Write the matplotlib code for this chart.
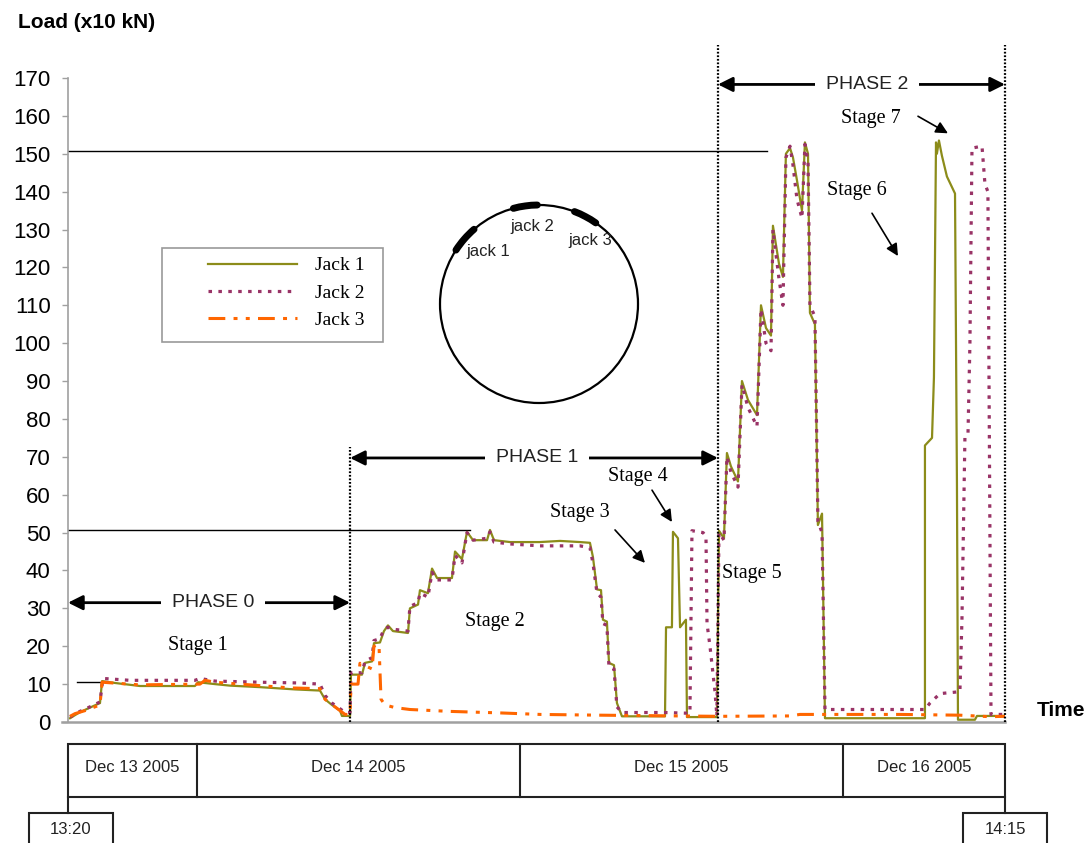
import matplotlib
matplotlib.use('Agg')
import matplotlib.pyplot as plt
from matplotlib.patches import Rectangle, Circle, Arc

# ---- data (time in hours since Dec 13 13:20, load in x10 kN) ----
jack1_t = [0.16, 0.54, 0.93, 1.32, 1.71, 2.10, 2.49, 2.65, 3.66, 5.60, 9.88, 10.12, 11.44, 12.61,
           14.94, 17.67, 19.61, 20.00, 20.54, 21.17, 21.32, 21.95,
           22.02, 22.88, 23.11, 23.66, 23.81, 24.28, 24.59, 24.90, 25.29, 26.46, 26.61, 27.24, 27.39,
           28.01, 28.33, 28.72, 29.88, 30.12, 30.66, 31.05, 31.52, 32.61, 32.84, 33.15, 34.40, 36.73,
           38.29, 39.84, 40.62, 40.85, 41.17, 41.48, 41.63, 41.94, 42.10, 42.49, 42.72, 43.11, 46.46,
           46.54, 47.00, 47.08, 47.47, 47.63, 48.09, 48.17, 50.50,
           50.66, 51.05, 51.28, 51.59, 52.14, 52.45, 52.92, 53.62, 53.93, 54.32, 54.71, 54.86, 55.33,
           55.64, 55.87, 56.19, 56.42, 56.73, 57.12, 57.35, 57.59, 57.74, 58.13, 58.36, 58.68, 58.91,
           66.69, 66.69, 67.24, 67.39, 67.55, 67.62, 67.78, 68.01, 68.40, 69.03, 69.18, 69.26, 70.58,
           70.74, 72.92]
jack1_load = [1.0, 1.8, 2.6, 3.2, 3.8, 4.4, 5.0, 10.8, 10.3, 9.5, 9.5, 10.5, 10.0, 9.6,
              9.2, 8.6, 8.3, 6.0, 4.5, 3.0, 1.6, 1.6,
              12.5, 12.5, 15.6, 16.0, 20.8, 21.0, 24.0, 25.5, 24.0, 23.5, 30.0, 31.0, 34.8,
              34.0, 40.5, 38.0, 38.0, 45.0, 43.0, 50.2, 48.0, 48.0, 50.7, 48.0, 47.5, 47.5,
              47.8, 47.5, 47.3, 43.6, 35.0, 34.8, 27.0, 26.5, 15.6, 15.0, 5.0, 1.5, 1.5,
              25.0, 25.0, 50.2, 48.5, 25.0, 27.0, 1.3, 1.3,
              50.5, 48.5, 71.0, 67.5, 63.5, 90.0, 85.0, 81.0, 110.0, 104.0, 102.0, 131.0, 121.0,
              117.5, 150.0, 151.5, 149.0, 143.0, 135.0, 153.0, 150.0, 108.0, 105.0, 52.0, 55.0, 1.0,
              1.0, 73.0, 75.0, 91.0, 153.0, 150.0, 153.5, 149.5, 144.0, 139.5, 63.0, 0.6, 0.6,
              1.6, 1.6]

jack2_t = [0.16, 0.93, 1.71, 2.49, 2.72, 4.82, 9.88, 10.27, 11.44, 14.94, 18.05, 19.61, 20.00,
           20.54, 21.17, 21.56, 21.95,
           22.02, 22.88, 23.11, 23.66, 23.81, 24.28, 24.59, 24.90, 25.29, 26.46, 26.61, 27.24, 27.39,
           28.01, 28.33, 28.72, 29.88, 30.12, 30.66, 31.05, 31.52, 32.61, 32.84, 33.15, 34.40, 36.73,
           38.29, 39.84, 40.62, 40.85, 41.17, 41.48, 41.63, 41.94, 42.10, 42.49, 42.72, 43.11,
           46.46, 48.40, 48.56, 49.42, 49.65, 49.73, 49.96, 50.35, 50.50,
           50.66, 51.05, 51.28, 51.59, 52.14, 52.45, 52.92, 53.62, 53.93, 54.32, 54.71, 54.86, 55.33,
           55.64, 55.87, 56.19, 56.42, 56.73, 57.12, 57.35, 57.59, 57.74, 58.13, 58.36, 58.68, 58.91,
           66.69, 67.08, 67.86, 69.41, 69.57, 69.80, 70.04, 70.19, 70.35, 71.13, 71.36, 71.59, 71.83,
           72.92]
jack2_load = [1.3, 2.8, 4.0, 5.3, 11.5, 11.0, 11.0, 11.5, 10.8, 10.5, 10.3, 10.0, 7.0,
              5.0, 3.5, 2.5, 2.5,
              13.0, 13.0, 16.0, 17.0, 21.5, 22.0, 24.5, 25.0, 24.5, 24.0, 30.5, 31.5, 34.0,
              33.0, 39.5, 37.5, 37.5, 44.0, 42.0, 50.0, 48.0, 48.5, 50.2, 47.5, 47.0, 46.5,
              46.5, 46.5, 46.0, 42.0, 34.0, 33.0, 26.0, 25.5, 14.5, 14.0, 4.0, 2.5,
              2.5, 2.3, 50.5, 50.0, 49.0, 26.0, 20.0, 8.0, 1.5,
              50.0, 48.0, 70.0, 66.0, 62.0, 89.0, 83.0, 78.0, 109.0, 100.0, 98.0, 130.0, 117.0,
              110.0, 149.0, 152.0, 147.0, 138.0, 133.0, 152.5, 148.0, 110.0, 107.0, 53.0, 50.0, 3.3,
              3.3, 5.0, 7.5, 8.0, 27.0, 75.0, 76.0, 100.0, 151.5, 152.0, 142.0, 140.0, 2.0,
              2.0]

jack3_t = [0.16, 0.54, 1.32, 2.10, 2.49, 2.65, 5.60, 10.27, 10.66, 11.44, 14.16, 17.28, 19.61,
           20.00, 20.78, 21.56, 21.95, 22.02, 22.57, 22.72, 23.66, 23.81, 24.20, 24.36, 24.67,
           25.45, 26.61, 29.73, 33.62, 36.73, 41.40, 50.58, 56.19, 56.96, 64.75, 69.41, 71.75, 72.92]
jack3_load = [1.5, 2.2, 3.0, 4.0, 4.5, 10.5, 9.8, 10.0, 11.0, 10.5, 9.8, 9.0, 8.8,
              6.0, 4.0, 2.0, 2.0, 10.0, 10.0, 15.5, 14.0, 20.0, 20.5, 6.0, 4.5,
              3.8, 3.3, 2.8, 2.4, 2.0, 1.8, 1.5, 1.6, 2.0, 2.0, 1.8, 1.4, 1.5]

day_bounds = [0.0, 10.04, 35.17, 60.31, 72.92]
day_labels = ['Dec 13 2005', 'Dec 14 2005', 'Dec 15 2005', 'Dec 16 2005']
phase_bounds = [0.0, 21.95, 50.58, 72.92]
phase_labels = ['PHASE 0', 'PHASE 1', 'PHASE 2']
phase_levels = [31.5, 69.7, 168.3]
phase_text_x = [11.28, 36.50, 62.18]
stage_labels = ['Stage 1', 'Stage 2', 'Stage 3', 'Stage 4', 'Stage 5', 'Stage 6', 'Stage 7']
stage_text_xy = [(10.12, 20.1), (33.23, 26.4), (39.84, 55.2), (44.36, 64.9),
                 (53.23, 39.1), (61.40, 140.2), (62.49, 159.4)]
stage_arrows = {'Stage 3': ((42.57, 50.7), (44.90, 42.0)),
                'Stage 4': ((45.45, 61.2), (47.00, 52.8)),
                'Stage 6': ((62.57, 134.3), (64.59, 123.0)),
                'Stage 7': ((66.15, 159.9), (68.48, 155.4))}
ref_levels = [(150.8, 0.0, 54.40), (50.8, 0.0, 31.28), (10.5, 0.70, 2.57)]

OLIVE = '#8c8c1a'
PURPLE = '#993366'
ORANGE = '#ff6600'
SANS = 'Liberation Sans'
SERIF = 'Liberation Serif'

W, H = 1091, 843
fig = plt.figure(figsize=(W / 100, H / 100), dpi=100)


def fx(px):
    return px / W


def fy(py):
    return 1 - py / H


ax = fig.add_axes([fx(68), fy(722), fx(1005) - fx(68), fy(78) - fy(722)])
ax.set_xlim(0, 72.92)
ax.set_ylim(0, 170)

ln1, = ax.plot(jack1_t, jack1_load, color=OLIVE, lw=1.6, label='Jack 1', zorder=3)
ln2, = ax.plot(jack2_t, jack2_load, color=PURPLE, lw=2.3, dashes=(1.1, 2.0), label='Jack 2', zorder=4)
ln3, = ax.plot(jack3_t, jack3_load, color=ORANGE, lw=2.2,
               dashes=(5.5, 2.7, 1.3, 2.7, 1.3, 2.7), label='Jack 3', zorder=5)

# reference load lines
for lvl, x0, x1 in ref_levels:
    ax.plot([x0, x1], [lvl, lvl], color='black', lw=1.0, zorder=2)

# phase boundaries (dotted)
ax.plot([phase_bounds[1]] * 2, [0, 72.6], color='black', lw=1.6, ls=(0, (0.8, 0.8)), clip_on=False, zorder=6)
for xb in phase_bounds[2:]:
    ax.plot([xb, xb], [0, 178.6], color='black', lw=1.6, ls=(0, (0.8, 0.8)), clip_on=False, zorder=6)

# phase arrows
for i, lab in enumerate(phase_labels):
    ax.annotate('', xy=(phase_bounds[i], phase_levels[i]), xytext=(phase_bounds[i + 1], phase_levels[i]),
                arrowprops=dict(arrowstyle='<|-|>', color='black', lw=2, mutation_scale=22,
                                shrinkA=0, shrinkB=0), annotation_clip=False, zorder=7)
    ax.text(phase_text_x[i], phase_levels[i], lab, ha='center', va='center', fontsize=14,
            family=SANS, color='#222222', zorder=8, clip_on=False,
            bbox=dict(facecolor='white', edgecolor='none', pad=8))

# stage labels
for lab, (tx, ty) in zip(stage_labels, stage_text_xy):
    ax.text(tx, ty, lab, ha='center', va='center', fontsize=14.5, family=SERIF, zorder=8)
    if lab in stage_arrows:
        (x0, y0), (x1, y1) = stage_arrows[lab]
        ax.annotate('', xy=(x1, y1), xytext=(x0, y0),
                    arrowprops=dict(arrowstyle='-|>', color='black', lw=1.2, mutation_scale=18,
                                    shrinkA=0, shrinkB=0), zorder=8)

# axes styling
for s in ['top', 'right']:
    ax.spines[s].set_visible(False)
ax.spines['left'].set_color('#a0a0a0')
ax.spines['bottom'].set_color('#a0a0a0')
ax.spines['left'].set_linewidth(1.2)
ax.spines['bottom'].set_linewidth(1.8)
ax.spines['bottom'].set_bounds(-0.5, 72.92)
ax.set_xticks([])
ax.set_yticks(range(0, 171, 10))
ax.tick_params(axis='y', length=4.5, width=1, color='#a0a0a0', pad=8, labelsize=16)
for t in ax.get_yticklabels():
    t.set_family(SANS)

fig.text(fx(18), fy(22), 'Load (x10 kN)', fontsize=15, fontweight='bold', family=SANS, va='center')
fig.text(fx(1037), fy(711), 'Time', fontsize=15, fontweight='bold', family=SANS, va='center')

# legend
fig.add_artist(Rectangle((fx(162), fy(342)), fx(383) - fx(162), fy(248) - fy(342),
                         transform=fig.transFigure, fill=False, edgecolor='#999999', lw=1.2))
leg = fig.legend(handles=[ln1, ln2, ln3], loc='upper left', bbox_to_anchor=(fx(198), fy(247)),
                 frameon=False, borderpad=0, handlelength=4.6, handletextpad=0.9,
                 labelspacing=0.5, prop={'family': SERIF, 'size': 14})

# ring with jack positions
circ_tr = fig.dpi_scale_trans
cx, cy, r = 5.39, (H - 304) / 100, 0.99
fig.add_artist(Circle((cx, cy), r, transform=circ_tr, fill=False, edgecolor='black', lw=1.6))
for a0, a1 in [(131, 147), (91, 105), (55, 69)]:
    fig.add_artist(Arc((cx, cy), 2 * r, 2 * r, theta1=a0, theta2=a1, transform=circ_tr,
                       color='black', lw=5, capstyle='round'))
for lab, px, py in [('jack 1', 488, 252), ('jack 2', 532, 226), ('jack 3', 590, 240)]:
    fig.text(fx(px), fy(py), lab, fontsize=12, family=SANS, ha='center', va='center', color='#222222')

# date table below the axis
xt = ax.get_xaxis_transform()
row_top, row_bot, box_top = -0.0342, -0.1165, -0.1413
ax.add_patch(Rectangle((day_bounds[0], row_bot), day_bounds[-1] - day_bounds[0], row_top - row_bot,
                       transform=xt, fill=False, edgecolor='#222222', lw=1.5, clip_on=False))
for xb in day_bounds[1:-1]:
    ax.plot([xb, xb], [row_bot, row_top], transform=xt, color='#222222', lw=1.5, clip_on=False)
for i, lab in enumerate(day_labels):
    ax.text((day_bounds[i] + day_bounds[i + 1]) / 2, (row_top + row_bot) / 2 + 0.004, lab, transform=xt,
            ha='center', va='center', fontsize=12, family=SANS, color='#222222')
# start / end time boxes
for xb, lab, bx in [(day_bounds[0], '13:20', 29), (day_bounds[-1], '14:15', 963)]:
    ax.plot([xb, xb], [row_bot, box_top], transform=xt, color='#222222', lw=1.5, clip_on=False)
    fig.add_artist(Rectangle((fx(bx), fy(880)), fx(84), fy(813) - fy(880), transform=fig.transFigure,
                             fill=False, edgecolor='#222222', lw=1.5))
    fig.text(fx(bx + 42), fy(829), lab, ha='center', va='center', fontsize=12,
             family=SANS, color='#222222')

fig.savefig('out.png', dpi=100)
